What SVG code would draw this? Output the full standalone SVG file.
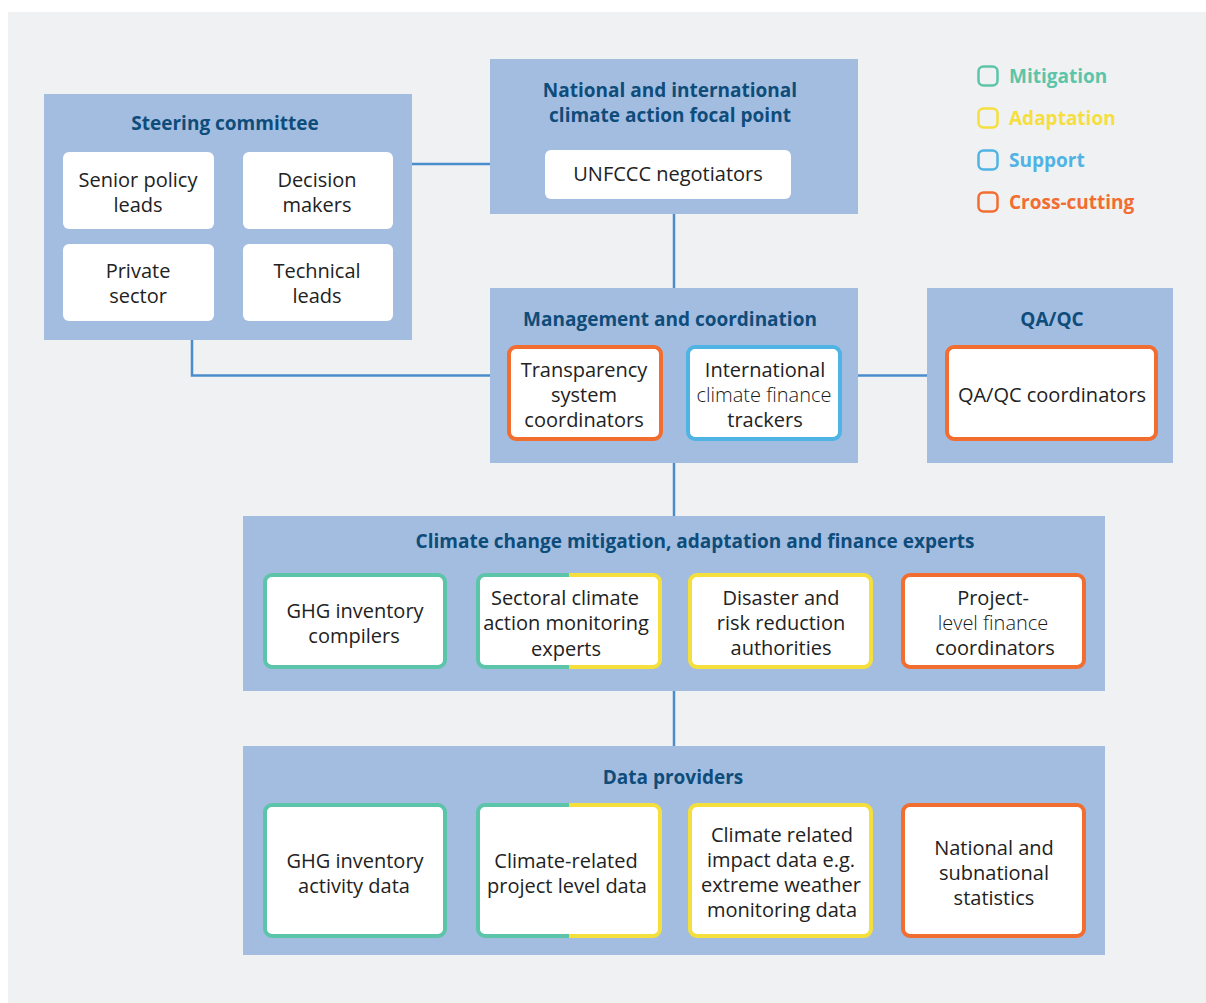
<svg xmlns="http://www.w3.org/2000/svg" width="1206" height="1003" viewBox="0 0 1206 1003">
  <style>
    .panel { fill: #a3bde1; }
    .title { font-family: "Open Sans", "Noto Sans", sans-serif; font-weight: 700; font-size: 19px; fill: #0e4c7a; text-anchor: middle; }
    .lbl { font-family: "Open Sans", "Noto Sans", sans-serif; font-size: 20px; fill: #222222; text-anchor: middle; }
    .light { font-weight: 300; fill: #1a1a1a; }
    .plain { fill: #ffffff; }
    .card { fill: #ffffff; stroke-width: 4; }
    .mit { stroke: #5cc5a9; }
    .ada { stroke: #f5df3c; }
    .sup { stroke: #4fb3e4; }
    .cross { stroke: #f26d30; }
    .conn { stroke: #4a8dcc; stroke-width: 2.5; fill: none; }
    .leg { font-family: "Open Sans", "Noto Sans", sans-serif; font-weight: 700; font-size: 19px; }
  </style>
  <defs>
    <clipPath id="leftHalf1"><rect x="440" y="560" width="129" height="120"/></clipPath>
    <clipPath id="rightHalf1"><rect x="569" y="560" width="120" height="120"/></clipPath>
    <clipPath id="leftHalf2"><rect x="440" y="790" width="129" height="160"/></clipPath>
    <clipPath id="rightHalf2"><rect x="569" y="790" width="120" height="160"/></clipPath>
  </defs>

  <!-- page background -->
  <rect x="0" y="0" width="1206" height="1003" fill="#ffffff"/>
  <rect x="8" y="12" width="1198" height="991" fill="#f0f1f3"/>

  <!-- connectors -->
  <g id="connectors">
    <line class="conn" x1="412" y1="164" x2="490" y2="164"/>
    <line class="conn" x1="674" y1="214" x2="674" y2="288"/>
    <polyline class="conn" points="192,340 192,375.5 490,375.5"/>
    <line class="conn" x1="858" y1="375.5" x2="927" y2="375.5"/>
    <line class="conn" x1="674" y1="463" x2="674" y2="516"/>
    <line class="conn" x1="674" y1="691" x2="674" y2="746"/>
  </g>

  <!-- steering committee -->
  <g id="steering">
    <rect class="panel" x="44" y="94" width="368" height="246"/>
    <text class="title" x="225" y="130">Steering committee</text>
    <rect class="plain" x="63" y="152" width="151" height="77" rx="6"/>
    <rect class="plain" x="243" y="152" width="150" height="77" rx="6"/>
    <rect class="plain" x="63" y="244" width="151" height="77" rx="6"/>
    <rect class="plain" x="243" y="244" width="150" height="77" rx="6"/>
    <text class="lbl" x="138" y="187">Senior policy</text>
    <text class="lbl" x="138" y="212">leads</text>
    <text class="lbl" x="317" y="187">Decision</text>
    <text class="lbl" x="317" y="212">makers</text>
    <text class="lbl" x="138" y="278">Private</text>
    <text class="lbl" x="138" y="303">sector</text>
    <text class="lbl" x="317" y="278">Technical</text>
    <text class="lbl" x="317" y="303">leads</text>
  </g>

  <!-- national focal point -->
  <g id="focal-point">
    <rect class="panel" x="490" y="59" width="368" height="155"/>
    <text class="title" x="670" y="97">National and international</text>
    <text class="title" x="670" y="122">climate action focal point</text>
    <rect class="plain" x="545" y="150" width="246" height="49" rx="6"/>
    <text class="lbl" x="668" y="181">UNFCCC negotiators</text>
  </g>

  <!-- management and coordination -->
  <g id="management">
    <rect class="panel" x="490" y="288" width="368" height="175"/>
    <text class="title" x="670" y="326">Management and coordination</text>
    <rect class="card cross" x="509" y="347" width="152" height="92" rx="7"/>
    <text class="lbl" x="584" y="377">Transparency</text>
    <text class="lbl" x="584" y="402">system</text>
    <text class="lbl" x="584" y="427">coordinators</text>
    <rect class="card sup" x="688" y="347" width="152" height="92" rx="7"/>
    <text class="lbl" x="765" y="377">International</text>
    <text class="lbl light" x="764" y="402">climate finance</text>
    <text class="lbl" x="765" y="427">trackers</text>
  </g>

  <!-- QA/QC -->
  <g id="qaqc">
    <rect class="panel" x="927" y="288" width="246" height="175"/>
    <text class="title" x="1052" y="326">QA/QC</text>
    <rect class="card cross" x="947" y="347" width="209" height="92" rx="7"/>
    <text class="lbl" x="1052" y="402">QA/QC coordinators</text>
  </g>

  <!-- experts -->
  <g id="experts">
    <rect class="panel" x="243" y="516" width="862" height="175"/>
    <text class="title" x="695" y="548">Climate change mitigation, adaptation and finance experts</text>

    <rect class="card mit" x="265" y="575" width="180" height="92" rx="7"/>
    <text class="lbl" x="355" y="618">GHG inventory</text>
    <text class="lbl" x="354" y="643">compilers</text>

    <rect class="plain" x="478" y="575" width="182" height="92" rx="7"/>
    <rect class="card mit" x="478" y="575" width="182" height="92" rx="7" fill="none" clip-path="url(#leftHalf1)"/>
    <rect class="card ada" x="478" y="575" width="182" height="92" rx="7" fill="none" clip-path="url(#rightHalf1)"/>
    <text class="lbl" x="565" y="605">Sectoral climate</text>
    <text class="lbl" x="566" y="630">action monitoring</text>
    <text class="lbl" x="566" y="656">experts</text>

    <rect class="card ada" x="690" y="575" width="181" height="92" rx="7"/>
    <text class="lbl" x="781" y="605">Disaster and</text>
    <text class="lbl" x="781" y="630">risk reduction</text>
    <text class="lbl" x="781" y="655">authorities</text>

    <rect class="card cross" x="903" y="575" width="181" height="92" rx="7"/>
    <text class="lbl" x="993" y="605">Project-</text>
    <text class="lbl light" x="993" y="630">level finance</text>
    <text class="lbl" x="995" y="655">coordinators</text>
  </g>

  <!-- data providers -->
  <g id="data-providers">
    <rect class="panel" x="243" y="746" width="862" height="209"/>
    <text class="title" x="673" y="784">Data providers</text>

    <rect class="card mit" x="265" y="805" width="180" height="131" rx="7"/>
    <text class="lbl" x="355" y="868">GHG inventory</text>
    <text class="lbl" x="354" y="893">activity data</text>

    <rect class="plain" x="478" y="805" width="182" height="131" rx="7"/>
    <rect class="card mit" x="478" y="805" width="182" height="131" rx="7" fill="none" clip-path="url(#leftHalf2)"/>
    <rect class="card ada" x="478" y="805" width="182" height="131" rx="7" fill="none" clip-path="url(#rightHalf2)"/>
    <text class="lbl" x="566" y="868">Climate-related</text>
    <text class="lbl" x="567" y="893">project level data</text>

    <rect class="card ada" x="690" y="805" width="181" height="131" rx="7"/>
    <text class="lbl" x="782" y="842">Climate related</text>
    <text class="lbl" x="781" y="867">impact data e.g.</text>
    <text class="lbl" x="781" y="892">extreme weather</text>
    <text class="lbl" x="782" y="917">monitoring data</text>

    <rect class="card cross" x="903" y="805" width="181" height="131" rx="7"/>
    <text class="lbl" x="994" y="855">National and</text>
    <text class="lbl" x="994" y="880">subnational</text>
    <text class="lbl" x="994" y="905">statistics</text>
  </g>

  <!-- legend -->
  <g id="legend">
    <rect x="978.5" y="66.5" width="19" height="19" rx="5" fill="none" stroke="#5cc5a9" stroke-width="2.5"/>
    <text class="leg" x="1009" y="83" fill="#5cc5a9">Mitigation</text>
    <rect x="978.5" y="108.5" width="19" height="19" rx="5" fill="none" stroke="#f5df3c" stroke-width="2.5"/>
    <text class="leg" x="1009" y="125" fill="#f5df3c">Adaptation</text>
    <rect x="978.5" y="150.5" width="19" height="19" rx="5" fill="none" stroke="#4fb3e4" stroke-width="2.5"/>
    <text class="leg" x="1009" y="167" fill="#4fb3e4">Support</text>
    <rect x="978.5" y="192.5" width="19" height="19" rx="5" fill="none" stroke="#f26d30" stroke-width="2.5"/>
    <text class="leg" x="1009" y="209" fill="#f26d30">Cross-cutting</text>
  </g>
</svg>
